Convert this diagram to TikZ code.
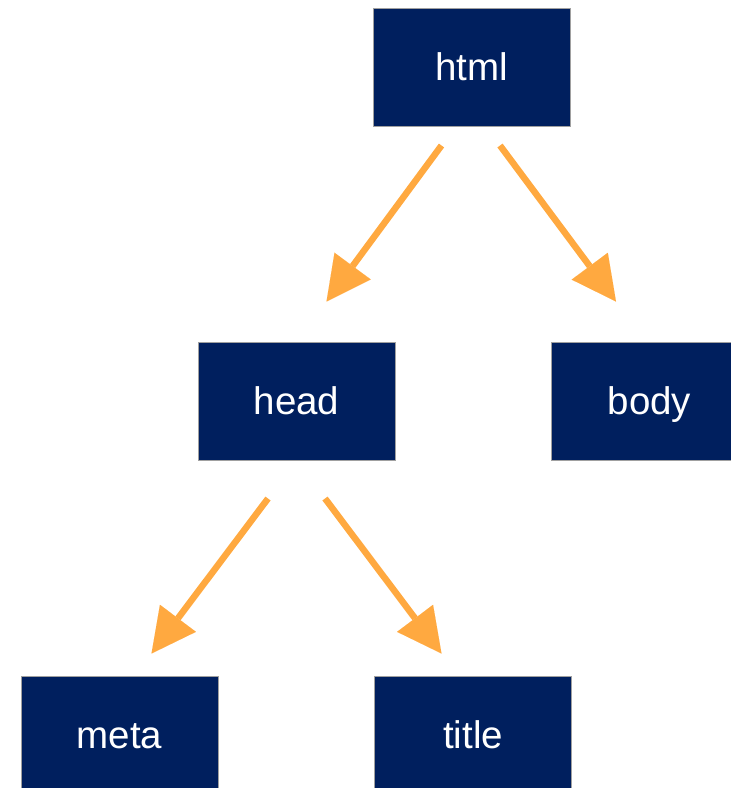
\documentclass[tikz,border=0pt]{standalone}
\usepackage{fontspec}
\setmainfont{Liberation Sans}
\usetikzlibrary{arrows.meta,calc}
\definecolor{boxnavy}{RGB}{0,31,94}
\definecolor{boxedge}{RGB}{160,160,160}
\definecolor{linkorange}{RGB}{255,169,64}
\tikzset{
  tag/.style={rectangle, fill=boxnavy, draw=boxedge, line width=1pt,
    minimum width=197pt, minimum height=118pt, inner sep=0pt,
    text height=30pt, text depth=3pt,
    text=white, font=\fontsize{38.5}{40}\selectfont},
  link/.style={draw=linkorange, line width=6.5pt,
    -{Triangle[length=44pt,width=45pt,line width=0.01pt]}}
}
\begin{document}
\begin{tikzpicture}[x=1pt,y=-1pt]
  \useasboundingbox (0,0) rectangle (731,788);
  \node[tag] (html)  at (471.5,67)  {html};
  \node[tag] (head)  at (296.5,401) {head};
  \node[tag] (body)  at (649.5,401) {body};
  \node[tag] (meta)  at (119.5,735) {meta};
  \node[tag] (title) at (473,735)   {title};

  \draw[link] ($(html.south)+(-30,19)$) -- ($(head.north)+(30,-40)$);
  \draw[link] ($(html.south)+(28.5,19)$) -- ($(body.north)+(-33.5,-40)$);
  \draw[link] ($(head.south)+(-28.5,38)$) -- ($(meta.north)+(32,-22)$);
  \draw[link] ($(head.south)+(28.5,38)$) -- ($(title.north)+(-31.5,-22)$);
\end{tikzpicture}
\end{document}
